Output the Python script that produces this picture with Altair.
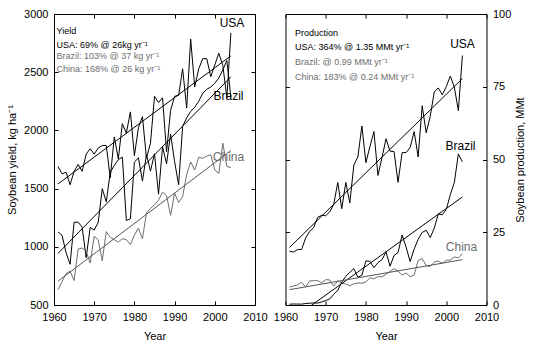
import altair as alt
import pandas as pd

years = list(range(1961, 2005))

usa_yield = [1690, 1627, 1641, 1533, 1648, 1708, 1648, 1796, 1843, 1796,
             1849, 1870, 1870, 1594, 1944, 1755, 2058, 1977, 2159, 1782,
             2024, 2118, 1762, 1890, 2293, 2239, 2280, 1816, 2172, 2293,
             2300, 2529, 2192, 2784, 2374, 2529, 2616, 2616, 2461, 2562,
             2663, 2556, 2280, 2838]
brazil_yield = [1128, 1099, 950, 850, 1211, 1212, 1170, 906, 1166, 1144,
                1210, 1500, 1386, 1640, 1699, 1749, 1770, 1226, 1240, 1727,
                1765, 1565, 1792, 1650, 1800, 1452, 1859, 1713, 1968, 1732,
                1533, 2035, 2108, 2163, 2199, 2250, 2319, 2353, 2373, 2406,
                2450, 2520, 2600, 2285]
china_yield = [630, 700, 770, 790, 710, 980, 990, 960, 860, 1090,
               1060, 880, 1130, 1080, 1060, 1040, 1070, 1060, 1020, 1100,
               1160, 1070, 1290, 1330, 1360, 1400, 1470, 1440, 1270, 1460,
               1380, 1430, 1620, 1730, 1660, 1770, 1760, 1780, 1790, 1660,
               1630, 1890, 1690, 1680]

usa_prod = [18.47, 18.21, 19.04, 19.08, 23.01, 25.28, 26.58, 30.13, 30.84, 30.68,
            32.0, 34.58, 42.12, 33.1, 42.14, 35.07, 48.1, 50.86, 61.52, 48.92,
            54.44, 59.61, 44.52, 50.64, 57.13, 52.87, 52.74, 42.15, 52.35, 52.42,
            54.07, 59.61, 50.89, 68.44, 59.17, 64.78, 73.18, 74.6, 72.22, 75.06,
            78.67, 74.83, 66.78, 85.74]
brazil_prod = [0.27, 0.35, 0.32, 0.3, 0.52, 0.6, 0.72, 0.65, 1.06, 1.51,
               2.08, 3.67, 5.01, 7.88, 9.89, 11.23, 12.51, 9.54, 10.24, 15.16,
               15.01, 12.84, 14.58, 15.54, 18.28, 13.33, 16.98, 18.02, 24.05, 19.9,
               14.94, 19.21, 22.59, 24.93, 25.68, 23.16, 26.39, 31.31, 30.99, 32.82,
               37.91, 42.13, 51.92, 49.21]
china_prod = [6.21, 6.51, 6.91, 7.87, 6.14, 8.27, 8.36, 8.38, 7.6, 8.71,
              8.61, 6.45, 8.37, 7.47, 7.24, 6.64, 7.26, 7.57, 7.46, 7.94,
              9.33, 9.03, 9.76, 9.7, 10.51, 11.61, 12.47, 11.65, 10.23, 11.0,
              9.71, 10.3, 15.31, 16.0, 13.5, 13.22, 14.73, 15.15, 14.29, 15.41,
              15.41, 16.51, 16.2, 17.6]

countries = ["USA", "Brazil", "China"]
x_ticks = [1960, 1970, 1980, 1990, 2000, 2010]
yield_ticks = [500, 1000, 1500, 2000, 2500, 3000]
prod_ticks = [0, 25, 50, 75, 100]

FONT = "Liberation Sans"
GREY = "#6e6e6e"


def long_df(a, b, c):
    return pd.DataFrame({
        "year": years * 3,
        "country": ["USA"] * len(years) + ["Brazil"] * len(years) + ["China"] * len(years),
        "value": a + b + c,
    })


def text_layer(t, x, y, color="black", size=9):
    return alt.Chart(pd.DataFrame({"t": [t]})).mark_text(
        align="left", baseline="middle", font=FONT, fontSize=size, color=color
    ).encode(text="t:N", x=alt.value(x), y=alt.value(y))


def center_text(t, x, y, color="black", size=12):
    return alt.Chart(pd.DataFrame({"t": [t]})).mark_text(
        align="center", baseline="middle", font=FONT, fontSize=size, color=color
    ).encode(text="t:N", x=alt.value(x), y=alt.value(y))


def tick_axis(orient, values, labels=False, title=None, **kw):
    args = dict(orient=orient, values=values, domain=False, tickSize=4, offset=-4,
                tickColor="black", tickWidth=1, labels=labels, grid=False,
                labelFlush=False, labelOverlap=False,
                labelFont=FONT, labelFontSize=11, labelColor="#000000",
                titleFont=FONT, titleFontSize=11, titleFontWeight="normal",
                titleColor="#000000")
    if labels:
        args["format"] = "d"
    if title is not None:
        args["title"] = title
    else:
        args["title"] = None
    args.update(kw)
    return alt.Axis(**args)


def panel(df, ydomain, yticks, ytitle, label_side, texts, big_labels):
    xs = alt.Scale(domain=[1960, 2010], nice=False, zero=False)
    ys = alt.Scale(domain=ydomain, nice=False, zero=False)
    other_side = "right" if label_side == "left" else "left"
    if label_side == "left":
        y_lab = tick_axis("left", yticks, labels=True, title=ytitle,
                          labelPadding=6, titlePadding=6)
    else:
        y_lab = tick_axis("right", yticks, labels=True, title=ytitle,
                          labelPadding=6, titlePadding=15, titleAngle=270)
    x_lab = tick_axis("bottom", x_ticks, labels=True, title="Year",
                      labelPadding=6, titlePadding=8)
    lines = alt.Chart(df).mark_line(strokeWidth=1, clip=True).encode(
        x=alt.X("year:Q", scale=xs, axis=x_lab),
        y=alt.Y("value:Q", scale=ys, axis=y_lab),
        color=alt.Color("country:N", scale=alt.Scale(domain=countries,
                        range=["#000000", "#000000", GREY]), legend=None),
        detail="country:N",
    )
    trend = alt.Chart(df).transform_regression(
        "year", "value", groupby=["country"]
    ).mark_line(strokeWidth=1, clip=True).encode(
        x=alt.X("year:Q", scale=xs, axis=tick_axis("top", x_ticks)),
        y=alt.Y("value:Q", scale=ys, axis=tick_axis(other_side, yticks)),
        color=alt.Color("country:N", scale=alt.Scale(domain=countries,
                        range=["#000000", "#000000", "#555555"]), legend=None),
        detail="country:N",
    )
    layers = [lines, trend] + texts + big_labels
    return alt.layer(*layers).resolve_scale(color="independent").resolve_axis(
        x="independent", y="independent"
    ).properties(width=201, height=291)


yield_df = long_df(usa_yield, brazil_yield, china_yield)
prod_df = long_df(usa_prod, brazil_prod, china_prod)

left = panel(
    yield_df, [500, 3000], yield_ticks, "Soybean yield, kg ha\u207b\u00b9", "left",
    [
        text_layer("Yield", 2.5, 16.8),
        text_layer("USA: 69% @ 26kg yr\u207b\u00b9", 2.5, 30.5),
        text_layer("Brazil: 103% @ 37 kg yr\u207b\u00b9", 2.5, 41.5, GREY),
        text_layer("China: 168% @ 26 kg yr\u207b\u00b9", 2.5, 54.5, GREY),
    ],
    [
        center_text("USA", 178, 8.5),
        center_text("Brazil", 174.5, 82),
        center_text("China", 174.5, 143, GREY),
    ],
)

right = panel(
    prod_df, [0, 100], prod_ticks, "Soybean production, MMt", "right",
    [
        text_layer("Production", 9.5, 18.8),
        text_layer("USA: 364% @ 1.35 MMt yr\u207b\u00b9", 9.5, 33),
        text_layer("Brazil: @ 0.99 MMt yr\u207b\u00b9", 9.5, 47.5, GREY),
        text_layer("China: 183% @ 0.24 MMt yr\u207b\u00b9", 9.5, 63, GREY),
    ],
    [
        center_text("USA", 177, 30),
        center_text("Brazil", 175, 132),
        center_text("China", 176, 233, GREY),
    ],
)

chart = alt.hconcat(left, right, spacing=30.5, bounds="flush").properties(
    padding={"left": 6, "top": 7, "right": 2, "bottom": 1},
    background="white",
).configure_view(stroke="black", strokeWidth=1)

chart.save("out.html", embed_options={"renderer": "svg", "actions": False})
